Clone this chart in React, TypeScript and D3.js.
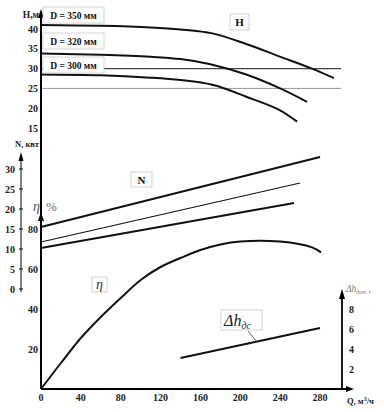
import * as d3 from "d3";

// Q axis ticks and the other axes
const qTicks = [0, 40, 80, 120, 160, 200, 240, 280];
const hTicks = [15, 20, 25, 30, 35, 40];
const nTicks = [0, 5, 10, 15, 20, 25, 30];
const etaTicks = [20, 40, 60, 80];
const dhTicks = [2, 4, 6, 8];

const diameterLabels = ["D = 350 мм", "D = 320 мм", "D = 300 мм"];

// H(Q) for each impeller
const q350 = [0, 60, 110, 140, 172, 206, 239, 272, 294];
const h350 = [41, 40.8, 40.4, 39.9, 38.9, 36.2, 33.1, 30.0, 27.6];
const q320 = [0, 60, 110, 140, 170, 206, 240, 267];
const h320 = [33.8, 33.5, 33, 32.4, 31.1, 28.5, 25, 21.6];
const q300 = [0, 60, 110, 140, 172, 206, 239, 257];
const h300 = [28.5, 28.3, 27.7, 27.1, 25.9, 22.9, 19.6, 16.6];

// reference heads
const hRef = [30, 25];

// N(Q)
const nQ350 = [0, 280];
const n350 = [15.5, 33];
const nQ320 = [0, 260];
const n320 = [11.75, 26.5];
const nQ300 = [0, 254];
const n300 = [10.25, 21.5];

// efficiency
const etaQ = [0, 20, 40, 60, 80, 100, 120, 140, 160, 180, 200, 240, 272, 281];
const eta = [0, 13, 25.5, 36, 45.5, 54.5, 61, 65.5, 69.5, 72.3, 73.8, 73.7, 70.8, 68.3];

// NPSH
const dhQ = [140, 280];
const dh = [3.1, 6.1];

const W = 384;
const H = 412;
const serif = "'Liberation Serif', 'DejaVu Serif', serif";

const x = d3.scaleLinear().domain([0, 280]).range([41, 320]);
const yH = d3.scaleLinear().domain([15, 40]).range([128, 29]);
const yN = d3.scaleLinear().domain([0, 30]).range([289, 169]);
const yEta = d3.scaleLinear().domain([0, 80]).range([389, 229]);
const yDh = d3.scaleLinear().domain([0, 8]).range([389, 309]);

const zip = (a: number[], b: number[]) => a.map((v, i) => [v, b[i]] as [number, number]);

const App = () => {
    const smooth = d3.curveCatmullRom.alpha(0.5);
    const lineH = d3.line<[number, number]>().x((d) => x(d[0])).y((d) => yH(d[1])).curve(smooth);
    const lineN = d3.line<[number, number]>().x((d) => x(d[0])).y((d) => yN(d[1]));
    const lineEta = d3.line<[number, number]>().x((d) => x(d[0])).y((d) => yEta(d[1])).curve(smooth);
    const lineDh = d3.line<[number, number]>().x((d) => x(d[0])).y((d) => yDh(d[1]));

    const axisX = 41;
    const baseY = 389;
    const nAxisX = 21;
    const rightX = 342;

    const headCurves = [zip(q350, h350), zip(q320, h320), zip(q300, h300)];
    const powerLines = [
        { d: zip(nQ350, n350), w: 2 },
        { d: zip(nQ320, n320), w: 1.1 },
        { d: zip(nQ300, n300), w: 2 },
    ];

    const box = (bx: number, by: number, bw: number, bh: number) => (
        <rect x={bx} y={by} width={bw} height={bh} fill="#fff" stroke="#c8c8c8" strokeWidth={0.8} />
    );

    return (
        <svg width={W} height={H} style={{ position: "absolute", left: 0, top: 0, background: "#fff" }} fontFamily={serif}>
            {/* reference lines H = 30 and H = 25 */}
            <line x1={axisX} x2={341} y1={yH(hRef[0])} y2={yH(hRef[0])} stroke="#444" strokeWidth={1.3} />
            <line x1={axisX} x2={341} y1={yH(hRef[1])} y2={yH(hRef[1])} stroke="#888" strokeWidth={0.9} />

            {/* H curves */}
            {headCurves.map((c, i) => (
                <path key={i} d={lineH(c) || ""} fill="none" stroke="#111" strokeWidth={2} />
            ))}

            {/* N lines */}
            {powerLines.map((p, i) => (
                <path key={i} d={lineN(p.d) || ""} fill="none" stroke="#111" strokeWidth={p.w} />
            ))}

            {/* efficiency */}
            <path d={lineEta(zip(etaQ, eta)) || ""} fill="none" stroke="#111" strokeWidth={2} />

            {/* NPSH */}
            <path d={lineDh(zip(dhQ, dh)) || ""} fill="none" stroke="#111" strokeWidth={2} />

            {/* main vertical axis */}
            <line x1={axisX} x2={axisX} y1={baseY} y2={14} stroke="#000" strokeWidth={2} />
            <path d={`M${axisX - 3},18 L${axisX},9 L${axisX + 3},18 Z`} fill="#000" />
            <path d={`M${axisX - 3},221 L${axisX},212 L${axisX + 3},221 Z`} fill="#000" />

            {/* Q axis */}
            <line x1={axisX} x2={348} y1={baseY} y2={baseY} stroke="#000" strokeWidth={1.8} />
            <path d={`M346,${baseY - 3} L354,${baseY} L346,${baseY + 3} Z`} fill="#000" />
            {qTicks.map((t) => (
                <text key={t} x={x(t)} y={baseY + 12} textAnchor="middle" fontSize={10} fontWeight="bold" fill="#222">
                    {t}
                </text>
            ))}
            <text x={347} y={404} fontSize={8.5} fontWeight="bold" fill="#222">
                Q, м<tspan dy={-3} fontSize={6}>3</tspan><tspan dy={3}>/ч</tspan>
            </text>

            {/* H ticks */}
            {hTicks.map((t) => (
                <text key={t} x={38} y={yH(t) + 3.5} textAnchor="end" fontSize={10} fontWeight="bold" fill="#222">
                    {t}
                </text>
            ))}
            <text x={39} y={18} textAnchor="end" fontSize={9.5} fontWeight="bold" fill="#222">H,м</text>

            {/* N axis */}
            <line x1={nAxisX} x2={nAxisX} y1={292} y2={158} stroke="#000" strokeWidth={1} />
            <path d={`M${nAxisX - 2.5},161 L${nAxisX},152 L${nAxisX + 2.5},161 Z`} fill="#000" />
            {nTicks.map((t) => (
                <g key={t}>
                    <line x1={nAxisX - 2} x2={nAxisX + 2} y1={yN(t)} y2={yN(t)} stroke="#000" strokeWidth={1} />
                    <text x={15} y={yN(t) + 3.5} textAnchor="end" fontSize={10} fontWeight="bold" fill="#222">
                        {t}
                    </text>
                </g>
            ))}
            <text x={27} y={147} textAnchor="middle" fontSize={8.5} fontWeight="bold" fill="#222">N, квт</text>

            {/* eta ticks */}
            {etaTicks.map((t) => (
                <text key={t} x={38} y={yEta(t) + 3.5} textAnchor="end" fontSize={10} fontWeight="bold" fill="#222">
                    {t}
                </text>
            ))}
            <text x={33} y={211} fontSize={14} fontStyle="italic" fill="#555">η</text>
            <text x={46} y={211} fontSize={13} fill="#666">%</text>

            {/* right NPSH axis */}
            <line x1={rightX} x2={rightX} y1={baseY} y2={296} stroke="#000" strokeWidth={1.8} />
            <path d={`M${rightX - 3},299 L${rightX},289 L${rightX + 3},299 Z`} fill="#000" />
            {dhTicks.map((t) => (
                <text key={t} x={349} y={yDh(t) + 3.5} fontSize={10} fontWeight="bold" fill="#222">
                    {t}
                </text>
            ))}
            <text x={346} y={292} fontSize={9.5} fontStyle="italic" fill="#777">
                Δh<tspan dy={2} fontSize={6.5}>доп</tspan><tspan dy={-2}> ,</tspan>
            </text>

            {/* label boxes */}
            {diameterLabels.map((lbl, i) => {
                const by = [7, 33, 57][i];
                return (
                    <g key={lbl}>
                        {box(43, by, 61, 16)}
                        <text x={73.5} y={by + 11.5} textAnchor="middle" fontSize={9.5} fontWeight="bold" fill="#111">
                            {lbl}
                        </text>
                    </g>
                );
            })}
            {box(230, 14, 19, 16)}
            <text x={239.5} y={26} textAnchor="middle" fontSize={11} fontWeight="bold" fill="#111">H</text>
            {box(131, 172, 21, 15)}
            <text x={141.5} y={184} textAnchor="middle" fontSize={11} fontWeight="bold" fill="#111">N</text>
            {box(92, 277, 15, 15)}
            <text x={99.5} y={289} textAnchor="middle" fontSize={14} fontStyle="italic" fill="#333">η</text>

            <line x1={248} x2={257} y1={331} y2={342} stroke="#333" strokeWidth={0.8} />
            {box(221, 310, 41, 20)}
            <text x={224} y={326} fontSize={16} fontStyle="italic" fill="#222">
                Δh<tspan dy={3} fontSize={10}>дс</tspan>
            </text>
        </svg>
    );
};

export default App;
